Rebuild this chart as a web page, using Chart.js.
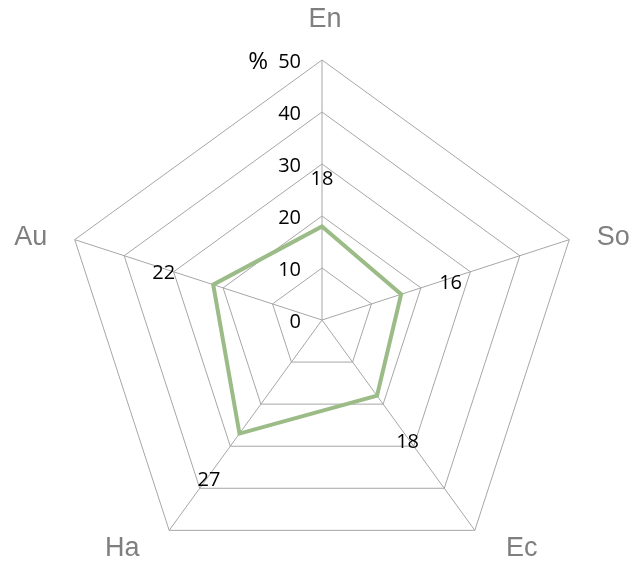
<!DOCTYPE html>
<html>
<head>
<meta charset="utf-8">
<script src="https://cdn.jsdelivr.net/npm/chart.js@4/dist/chart.umd.min.js"></script>
<style>
  html, body { margin: 0; padding: 0; background: #fff; }
  #wrap { width: 633px; height: 567px; }
</style>
</head>
<body>
<div id="wrap"><canvas id="radar"></canvas></div>
<script>
const categories = ["En", "So", "Ec", "Ha", "Au"];
const values = [18, 16, 18, 27, 22];
const tickValues = [0, 10, 20, 30, 40, 50];
const unitLabel = "%";

// pin the radar to the reference geometry and draw labels ourselves
const radarLabels = {
    id: "radarLabels",
    afterLayout(chart) {
        const r = chart.scales.r;
        r.xCenter = 322;
        r.yCenter = 320;
        r.drawingArea = 260;
    },
    afterDraw(chart) {
        const r = chart.scales.r;
        const ctx = chart.ctx;
        ctx.save();
        ctx.textBaseline = "middle";

        // tick labels, left of the vertical axis
        ctx.font = "20px 'Open Sans'";
        ctx.fillStyle = "#000";
        ctx.textAlign = "right";
        tickValues.forEach(v => {
            const p = r.getPointPositionForValue(0, v);
            ctx.fillText(String(v), p.x - 21, p.y + 2);
        });
        const top = r.getPointPositionForValue(0, tickValues[tickValues.length - 1]);
        ctx.font = "24px 'Open Sans'";
        ctx.fillText(unitLabel, top.x - 54, top.y + 2);

        // category names, pushed sideways from each outer vertex
        ctx.font = "27px 'Liberation Sans'";
        ctx.fillStyle = "#7f7f7f";
        ctx.textAlign = "center";
        categories.forEach((c, i) => {
            const p = r.getPointPosition(i, r.drawingArea);
            const dx = p.x - r.xCenter, dy = p.y - r.yCenter;
            let ox = 0, oy = 0;
            if (Math.abs(dx) < 1) { oy = -40; ox = 3; }
            else if (dy < 0) { ox = Math.sign(dx) * 44; oy = -2; }
            else { ox = Math.sign(dx) * 47; oy = 18; }
            ctx.fillText(c, p.x + ox, p.y + oy);
        });

        // value labels, a bit outside each point
        ctx.font = "20px 'Open Sans'";
        ctx.fillStyle = "#000";
        values.forEach((v, i) => {
            const p = r.getPointPositionForValue(i, v + 10);
            ctx.fillText(String(v), p.x, p.y + 5);
        });
        ctx.restore();
    }
};

new Chart(document.getElementById("radar"), {
    type: "radar",
    data: {
        labels: categories,
        datasets: [{
            data: values,
            borderColor: "#9bbb87",
            backgroundColor: "transparent",
            borderWidth: 4,
            pointRadius: 0,
            fill: false
        }]
    },
    options: {
        responsive: true,
        maintainAspectRatio: false,
        animation: false,
        layout: {padding: 0},
        plugins: {
            legend: {display: false},
            tooltip: {enabled: false}
        },
        scales: {
            r: {
                min: 0,
                max: 50,
                ticks: {stepSize: 10, display: false},
                grid: {color: "#a6a6a6", lineWidth: 1},
                angleLines: {color: "#a6a6a6", lineWidth: 1},
                pointLabels: {display: false}
            }
        }
    },
    plugins: [radarLabels]
});
</script>
</body>
</html>
